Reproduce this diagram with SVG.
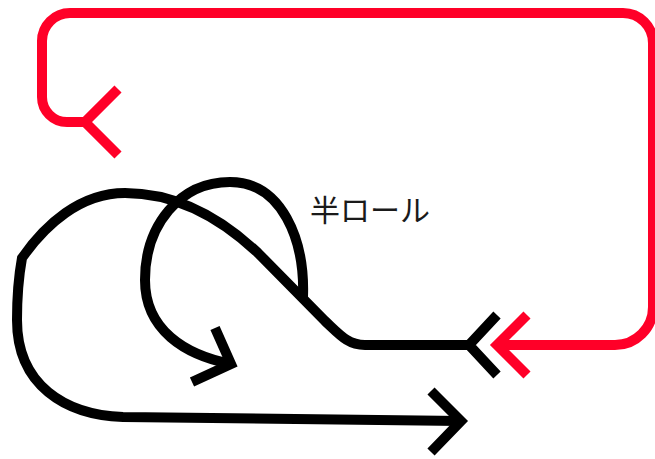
<svg xmlns="http://www.w3.org/2000/svg" width="655" height="459" viewBox="0 0 655 459">
<style>
.red{fill:none;stroke:#ff0028;stroke-width:10;stroke-linejoin:miter}
.blk{fill:none;stroke:#000;stroke-width:10;stroke-linejoin:miter}
.lbl{font-family:"Noto Sans CJK JP","Noto Sans",sans-serif;font-size:30px;fill:#1a1a1a}
</style>
<rect width="655" height="459" fill="#fff"/>
<g id="connectors">
<g id="return-path">
<path class="red" d="M497,345 H615 A38,38 0 0 0 653,307 V43 A30,30 0 0 0 623,13 H70 A28,28 0 0 0 42,41 V97 A25,25 0 0 0 67,122 H85"/>
<path class="red" d="M118,89 L85,122 L118,155"/>
<path class="red" d="M527,315 L497,345 L527,375"/>
</g>
<g id="main-path">
<path class="blk" d="M469,345 H365 C348,345 340,335 325,321 L258,253 C225,222 180,193 125,193 C80,193 45,225 22,258 C18,280 17,300 17,320 C17,385 65,415 123,417 L461,421"/>
<path class="blk" d="M497,315 L469,345 L497,375"/>
<path class="blk" d="M431,391 L461,421 L431,452"/>
</g>
<g id="half-roll">
<path class="blk" d="M303,297 C305,240 282,182 230,182 C180,182 145,225 145,280 C145,330 185,355 231,364"/>
<path class="blk" d="M215,328 L231,364 L192,382"/>
</g>
</g>
<g id="label-half-roll">
<text class="lbl" x="310" y="221">半ロール</text>
</g>
</svg>
